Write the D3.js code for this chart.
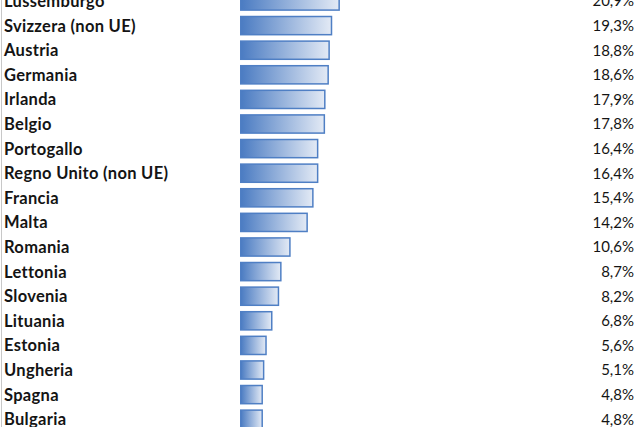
<!DOCTYPE html>
<html>
<head>
<meta charset="utf-8">
<script src="https://cdn.jsdelivr.net/npm/d3@7"></script>
<style>
  html, body { margin: 0; padding: 0; background: #fff; overflow: hidden; }
  svg { display: block; }
  .lbl { font-family: Lato, "Open Sans", sans-serif; font-weight: 700; font-size: 16.5px; letter-spacing: 0.3px; fill: #141414; }
  .val { font-family: Lato, "Open Sans", sans-serif; font-size: 15px; fill: #141414; }
</style>
</head>
<body>
<div id="chart"></div>
<script>
  // Countries, top to bottom (top row is cut off in the source image)
  const countries = [
    'Lussemburgo', 'Svizzera (non UE)', 'Austria', 'Germania', 'Irlanda',
    'Belgio', 'Portogallo', 'Regno Unito (non UE)', 'Francia', 'Malta',
    'Romania', 'Lettonia', 'Slovenia', 'Lituania', 'Estonia',
    'Ungheria', 'Spagna', 'Bulgaria',
  ];
  const shares = [
    20.9, 19.3, 18.8, 18.6, 17.9,
    17.8, 16.4, 16.4, 15.4, 14.2,
    10.6, 8.7, 8.2, 6.8, 5.6,
    5.1, 4.8, 4.8,
  ];

  const W = 640, H = 427;
  const fmt = (v) => d3.format('.1f')(v).replace('.', ',') + '%';

  const svg = d3.select('#chart').append('svg')
    .attr('width', W).attr('height', H);

  const defs = svg.append('defs');
  const grad = defs.append('linearGradient')
    .attr('id', 'barFill').attr('x1', '0%').attr('x2', '100%')
    .attr('y1', '0%').attr('y2', '0%');
  grad.append('stop').attr('offset', '0%').attr('stop-color', '#4a7bc2');
  grad.append('stop').attr('offset', '100%').attr('stop-color', '#e3eaf5');

  // band scale: first row sits half out of the frame
  const y = d3.scaleBand()
    .domain(countries)
    .range([-11.3, -11.3 + countries.length * 24.6])
    .paddingInner(0.2)
    .paddingOuter(0.1);

  const x = d3.scaleLinear().domain([0, 25]).range([240, 240 + 25 * 4.78]);

  // thin grey frame line on the left
  svg.append('line')
    .attr('x1', 1.5).attr('x2', 1.5).attr('y1', 0).attr('y2', H)
    .attr('stroke', '#c8c8c8').attr('stroke-width', 1);

  const rows = svg.selectAll('g.row').data(countries).enter()
    .append('g').attr('class', 'row');

  rows.append('rect')
    .attr('x', x(0) + 0.75)
    .attr('y', (d) => y(d) + 0.75)
    .attr('width', (d, i) => x(shares[i]) - x(0) - 1.5)
    .attr('height', y.bandwidth() - 1.5)
    .attr('fill', 'url(#barFill)')
    .attr('stroke', '#4f7fc4')
    .attr('stroke-width', 1.5);

  rows.append('text')
    .attr('class', 'lbl')
    .attr('x', 4)
    .attr('y', (d) => y(d) + y.bandwidth() / 2)
    .attr('dy', '0.36em')
    .text((d) => d);

  rows.append('text')
    .attr('class', 'val')
    .attr('x', 634)
    .attr('y', (d) => y(d) + y.bandwidth() / 2)
    .attr('dy', '0.36em')
    .attr('text-anchor', 'end')
    .text((d, i) => fmt(shares[i]));
</script>
</body>
</html>
